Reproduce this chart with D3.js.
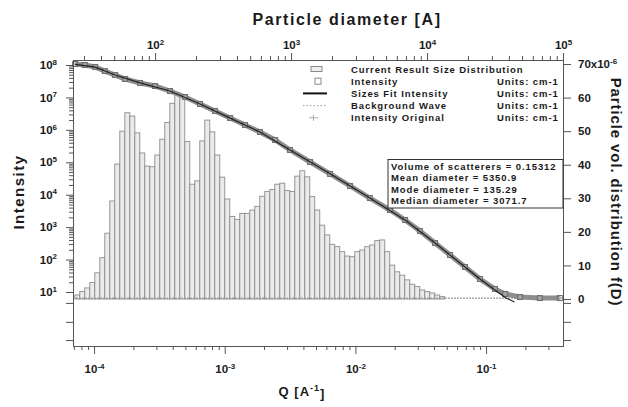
<!DOCTYPE html>
<html>
<head>
<meta charset="utf-8">
<script src="https://cdn.jsdelivr.net/npm/d3@7"></script>
<style>
  body { margin: 0; background: #fff; }
  svg { display: block; font-family: Arial, "Liberation Sans", sans-serif; }
  .axis text { font-size: 11.5px; font-weight: bold; fill: #1a1a1a; }
  .axis path, .axis line { stroke: #555; }
</style>
</head>
<body>
<svg id="chart" width="628" height="407"></svg>
<script>
// size distribution: bin diameters [A] and particle vol. distribution (x1e-6)
const diameters = [26.8, 29.1, 31.7, 34.5, 37.6, 40.9, 44.5, 48.4, 52.7, 57.4,
	62.5, 68.0, 74.0, 80.5, 87.6, 95.4, 103.8, 112.9, 122.9, 133.8,
	145.6, 158.5, 172.5, 187.7, 204.3, 222.3, 242.0, 263.4, 286.6, 312.0,
	339.5, 369.5, 402.1, 437.7, 476.4, 518.5, 564.3, 614.1, 668.4, 727.4,
	791.7, 861.6, 937.8, 1021, 1111, 1209, 1316, 1432, 1558, 1696,
	1846, 2009, 2186, 2379, 2590, 2818, 3067, 3338, 3633, 3954,
	4303, 4684, 5097, 5548, 6038, 6571, 7152, 7784, 8472, 9220,
	10035, 10921, 11886, 12937]
const volDist = [1.2, 2.2, 3.3, 4.9, 7.8, 12.3, 19.6, 29.2, 40.2, 50.0,
	55.5, 54.5, 49.5, 43.5, 39.6, 39.4, 42.9, 47.6, 52.6, 58.3,
	61.5, 60.8, 46.9, 34.2, 35.2, 47.1, 53.3, 49.8, 42.9, 36.3,
	29.8, 24.6, 23.7, 25.5, 25.5, 26.5, 27.6, 30.6, 32.0, 32.6,
	34.2, 34.5, 32.3, 32.0, 36.6, 38.2, 36.4, 30.5, 26.5, 22.0,
	19.1, 16.3, 15.6, 14.1, 12.8, 12.6, 14.1, 14.6, 15.6, 16.1,
	17.4, 17.6, 14.1, 10.1, 8.1, 7.1, 5.7, 4.4, 3.7, 2.7,
	2.2, 1.8, 1.2, 0.7]

// measured intensity vs Q [1/A]
const qValues = [7.16e-5, 8.5e-5, 1.02e-4, 1.21e-4, 1.45e-4, 1.73e-4, 2.25e-4, 2.93e-4,
	3.81e-4, 4.97e-4, 6.47e-4, 8.43e-4, 1.10e-3, 1.43e-3, 1.86e-3, 2.43e-3, 3.16e-3,
	4.50e-3, 6.40e-3, 9.10e-3, 1.29e-2, 1.84e-2, 2.40e-2, 3.12e-2, 4.07e-2, 5.30e-2,
	6.90e-2, 8.98e-2, 0.117, 0.140, 0.182, 0.258, 0.367]
const intensity = [1.07e8, 1.0e8, 8.7e7, 6.5e7, 4.9e7, 3.7e7, 2.79e7, 2.25e7,
	1.58e7, 1.03e7, 6.27e6, 3.82e6, 2.32e6, 1.41e6, 8.6e5, 4.87e5, 2.39e5,
	1.02e5, 4.36e4, 1.86e4, 7.9e3, 3.38e3, 1.66e3, 760, 324, 138,
	59, 25.2, 12.4, 8.7, 7.0, 6.5, 6.5]

// sizes fit
const fitQ = [7.16e-5, 1.02e-4, 1.45e-4, 2.25e-4, 3.81e-4, 6.47e-4, 1.10e-3, 1.86e-3,
	3.16e-3, 6.40e-3, 1.29e-2, 2.40e-2, 4.07e-2, 6.90e-2, 8.98e-2, 0.117, 0.140, 0.165]
const fitIntensity = [1.05e8, 8.6e7, 4.9e7, 2.8e7, 1.58e7, 6.3e6, 2.3e6, 8.6e5,
	2.4e5, 4.4e4, 7.9e3, 1.66e3, 324, 59, 25, 11.5, 6.8, 4.9]

const backgroundLevel = 6.5

const bottomMajor = [1e-4, 1e-3, 1e-2, 1e-1]
const bottomLabels = ['-4', '-3', '-2', '-1']
const topMajor = [1e2, 1e3, 1e4, 1e5]
const topLabels = ['2', '3', '4', '5']
const leftMajor = [1e1, 1e2, 1e3, 1e4, 1e5, 1e6, 1e7, 1e8]
const leftLabels = ['1', '2', '3', '4', '5', '6', '7', '8']
const lowTicks = [4.6, 1.2, 0.33]
const rightMajor = [0, 10, 20, 30, 40, 50, 60, 70]

const legendNames = ['Current Result Size Distribution', 'Intensity', 'Sizes Fit Intensity',
	'Background Wave', 'Intensity Original']
const legendUnits = ['', 'Units:  cm-1', 'Units:  cm-1', 'Units:  cm-1', 'Units:  cm-1']
const statsLines = ['Volume of scatterers = 0.15312', 'Mean diameter = 5350.9',
	'Mode diameter =  135.29', 'Median diameter = 3071.7']

/*
 * LAYOUT
 */
const W = 628, H = 407
const margin = { top: 60, right: 65, bottom: 61, left: 73 }
const x0 = margin.left, x1 = W - margin.right
const y0 = margin.top, y1 = H - margin.bottom
const ink = '#1a1a1a'

const svg = d3.select('#chart')

const xQ = d3.scaleLog().domain([6.9e-5, 0.388]).range([x0, x1])
const xD = d3.scaleLog().domain([24.9, 1e5]).range([x0, x1])
const yI = d3.scaleLog().domain([0.216, 1.426e8]).range([y1, y0])
const yV = d3.scaleLinear().domain([-14.0, 71.2]).range([y1, y0])

function powLabel(text, base, exp) {
	text.text(null)
	text.append('tspan').text(base)
	text.append('tspan').attr('dy', '-0.55em').attr('font-size', '8px').text(exp)
}

/*
 * BARS (size distribution, top + right axes)
 */
function binEdge(i) {
	if (i <= 0) return diameters[0] * Math.sqrt(diameters[0] / diameters[1])
	if (i >= diameters.length) {
		const n = diameters.length
		return diameters[n - 1] * Math.sqrt(diameters[n - 1] / diameters[n - 2])
	}
	return Math.sqrt(diameters[i - 1] * diameters[i])
}

svg.append('g')
	.selectAll('rect')
	.data(volDist)
	.join('rect')
	.attr('x', (d, i) => xD(binEdge(i)))
	.attr('width', (d, i) => xD(binEdge(i + 1)) - xD(binEdge(i)))
	.attr('y', d => yV(d))
	.attr('height', d => yV(0) - yV(d))
	.attr('fill', '#ebebeb')
	.attr('stroke', '#8c8c8c')
	.attr('stroke-width', 0.9)

/*
 * CURVES
 */
// background wave
svg.append('line')
	.attr('x1', x0).attr('x2', x1)
	.attr('y1', yI(backgroundLevel)).attr('y2', yI(backgroundLevel))
	.attr('stroke', '#999').attr('stroke-width', 1.2)
	.attr('stroke-dasharray', '2,1')

const lineI = d3.line().x(d => xQ(d[0])).y(d => yI(d[1]))
const dataPts = qValues.map((q, i) => [q, intensity[i]])
const fitPts = fitQ.map((q, i) => [q, fitIntensity[i]])

svg.append('path')
	.attr('d', lineI(dataPts))
	.attr('fill', 'none').attr('stroke', '#8e8e8e').attr('stroke-width', 5)

// intensity original (+)
svg.append('g')
	.selectAll('path')
	.data(dataPts)
	.join('path')
	.attr('d', d => {
		const cx = xQ(d[0]), cy = yI(d[1])
		return `M${cx - 3},${cy}H${cx + 3}M${cx},${cy - 3}V${cy + 3}`
	})
	.attr('stroke', '#b0b0b0').attr('stroke-width', 1)

// intensity (squares)
svg.append('g')
	.selectAll('rect')
	.data(dataPts)
	.join('rect')
	.attr('x', d => xQ(d[0]) - 2.5)
	.attr('y', d => yI(d[1]) - 2.5)
	.attr('width', 5).attr('height', 5)
	.attr('fill', 'none').attr('stroke', '#6e6e6e').attr('stroke-width', 1)

// sizes fit
svg.append('path')
	.attr('d', lineI(fitPts))
	.attr('fill', 'none').attr('stroke', '#222').attr('stroke-width', 1.2)

/*
 * AXES
 */
function styleAxis(g) {
	g.attr('class', 'axis')
	g.select('.domain').attr('stroke', '#555')
	g.selectAll('.tick line').attr('stroke', '#555')
}

// bottom Q axis
const xMinor = xQ.ticks().filter(v => !bottomMajor.some(m => Math.abs(v / m - 1) < 1e-6))
svg.append('g')
	.attr('transform', `translate(0,${y1})`)
	.call(d3.axisBottom(xQ).tickValues(xMinor).tickSize(4).tickSizeOuter(0).tickFormat(''))
	.call(styleAxis)
svg.append('g')
	.attr('transform', `translate(0,${y1})`)
	.call(d3.axisBottom(xQ).tickValues(bottomMajor).tickSize(8).tickSizeOuter(0).tickPadding(11))
	.call(styleAxis)
	.selectAll('.tick text')
	.each(function (d, i) { powLabel(d3.select(this), '10', bottomLabels[i]) })

// top diameter axis
const dMinor = xD.ticks().filter(v => !topMajor.some(m => Math.abs(v / m - 1) < 1e-6))
svg.append('g')
	.attr('transform', `translate(0,${y0})`)
	.call(d3.axisTop(xD).tickValues(dMinor).tickSize(4).tickSizeOuter(0).tickFormat(''))
	.call(styleAxis)
svg.append('g')
	.attr('transform', `translate(0,${y0})`)
	.call(d3.axisTop(xD).tickValues(topMajor).tickSize(7).tickSizeOuter(0).tickPadding(4))
	.call(styleAxis)
	.selectAll('.tick text')
	.each(function (d, i) { powLabel(d3.select(this), '10', topLabels[i]) })

// left intensity axis
const iMinor = yI.ticks(40).filter(v => v > 10 && v < 1e8 && !leftMajor.some(m => Math.abs(v / m - 1) < 1e-6))
svg.append('g')
	.attr('transform', `translate(${x0},0)`)
	.call(d3.axisLeft(yI).tickValues(iMinor).tickSize(4).tickSizeOuter(0).tickFormat(''))
	.call(styleAxis)
svg.append('g')
	.attr('transform', `translate(${x0},0)`)
	.call(d3.axisLeft(yI).tickValues(lowTicks).tickSize(7).tickSizeOuter(0).tickFormat(''))
	.call(styleAxis)
svg.append('g')
	.attr('transform', `translate(${x0},0)`)
	.call(d3.axisLeft(yI).tickValues(leftMajor).tickSize(7).tickSizeOuter(0).tickPadding(9))
	.call(styleAxis)
	.selectAll('.tick text')
	.each(function (d, i) { powLabel(d3.select(this), '10', leftLabels[i]) })

// right volume axis
svg.append('g')
	.attr('transform', `translate(${x1},0)`)
	.call(d3.axisRight(yI).tickValues(lowTicks).tickSize(8).tickSizeOuter(0).tickFormat(''))
	.call(styleAxis)
svg.append('g')
	.attr('transform', `translate(${x1},0)`)
	.call(d3.axisRight(yV).tickValues(rightMajor).tickSize(8).tickSizeOuter(0).tickPadding(7))
	.call(styleAxis)
	.selectAll('.tick text')
	.each(function (d) {
		if (d === 70) powLabel(d3.select(this), '70x10', '-6')
	})

/*
 * TITLES
 */
svg.append('text')
	.attr('x', 347).attr('y', 25)
	.attr('text-anchor', 'middle')
	.attr('font-size', '16px').attr('font-weight', 'bold')
	.attr('letter-spacing', '1.6px').attr('fill', ink)
	.text('Particle diameter [A]')

svg.append('text')
	.attr('transform', 'translate(24,192) rotate(-90)')
	.attr('text-anchor', 'middle')
	.attr('font-size', '15px').attr('font-weight', 'bold')
	.attr('letter-spacing', '1.5px').attr('fill', ink)
	.text('Intensity')

svg.append('text')
	.attr('transform', 'translate(611,192) rotate(90)')
	.attr('text-anchor', 'middle')
	.attr('font-size', '15px').attr('font-weight', 'bold')
	.attr('letter-spacing', '0.9px').attr('fill', ink)
	.text('Particle vol. distribution f(D)')

const qTitle = svg.append('text')
	.attr('x', 302).attr('y', 396)
	.attr('text-anchor', 'middle')
	.attr('font-size', '13px').attr('font-weight', 'bold')
	.attr('letter-spacing', '1px').attr('fill', ink)
qTitle.append('tspan').text('Q  [A')
qTitle.append('tspan').attr('dy', '-0.55em').attr('font-size', '9px').text('-1')
qTitle.append('tspan').attr('dy', '0.5em').text(']')

/*
 * LEGEND
 */
const legend = svg.append('g')
	.attr('font-size', '9.5px').attr('font-weight', 'bold')
	.attr('letter-spacing', '0.9px').attr('fill', ink)

legendNames.forEach((name, i) => {
	const cy = 69 + i * 12.2
	legend.append('text').attr('x', 351).attr('y', cy + 3.5).text(name)
	if (legendUnits[i]) legend.append('text').attr('x', 497).attr('y', cy + 3.5).text(legendUnits[i])
})

legend.append('rect').attr('x', 311).attr('y', 66.5).attr('width', 11).attr('height', 5)
	.attr('fill', '#eee').attr('stroke', '#888')
legend.append('rect').attr('x', 315).attr('y', 78.2).attr('width', 6).attr('height', 6)
	.attr('fill', 'none').attr('stroke', '#888')
legend.append('line').attr('x1', 303).attr('x2', 327).attr('y1', 93.4).attr('y2', 93.4)
	.attr('stroke', '#111').attr('stroke-width', 2)
legend.append('line').attr('x1', 303).attr('x2', 326).attr('y1', 105.6).attr('y2', 105.6)
	.attr('stroke', '#999').attr('stroke-dasharray', '1.5,2')
legend.append('path').attr('d', 'M309,117.8H318M313.5,114.8V120.8')
	.attr('stroke', '#aaa').attr('fill', 'none')

/*
 * STATS BOX
 */
svg.append('rect')
	.attr('x', 388).attr('y', 159.5).attr('width', x1 - 388).attr('height', 48.5)
	.attr('fill', '#fff').attr('stroke', '#333')

const stats = svg.append('g')
	.attr('font-size', '9.5px').attr('font-weight', 'bold')
	.attr('letter-spacing', '0.9px').attr('fill', ink)
statsLines.forEach((s, i) => {
	stats.append('text').attr('x', 391).attr('y', 169.5 + i * 11.6).text(s)
})
</script>
</body>
</html>
